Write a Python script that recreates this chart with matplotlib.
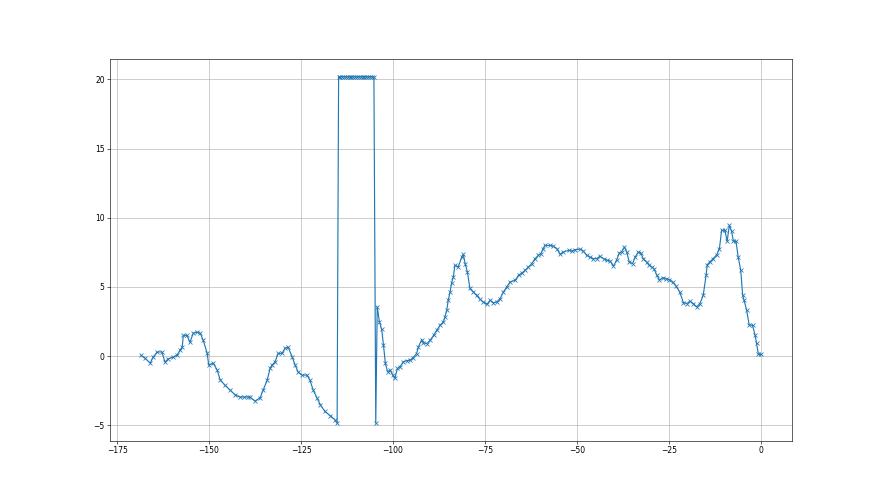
import matplotlib
matplotlib.use("Agg")
import matplotlib.pyplot as plt

x_left = [-168.5, -167.4, -166.0, -165.2, -164.1, -162.8, -162.0, -161.1, -159.8, -158.7,
          -157.9, -157.3, -157.0, -156.0, -155.2, -154.3, -153.3, -152.4, -151.6, -150.5,
          -150.1, -148.9, -147.8, -147.0, -145.7, -144.3, -142.9, -141.6, -140.5, -139.5,
          -138.9, -137.5, -136.1, -135.3, -134.2, -133.4, -132.9, -132.1, -131.2, -130.2,
          -129.3, -128.5, -127.4, -126.6, -125.8, -124.7, -123.4, -122.6, -121.7, -120.7,
          -119.8, -118.5, -117.1, -115.8, -115.2]
y_left = [0.05, -0.15, -0.5, -0.07, 0.3, 0.3, -0.43, -0.2, -0.07, 0.07,
          0.43, 0.65, 1.5, 1.5, 1.0, 1.66, 1.73, 1.66, 1.15, 0.2,
          -0.65, -0.5, -1.0, -1.7, -2.1, -2.45, -2.8, -2.96, -2.95, -2.95,
          -2.96, -3.25, -3.0, -2.45, -1.73, -0.87, -0.65, -0.43, 0.2, 0.2,
          0.58, 0.65, -0.07, -0.65, -1.15, -1.37, -1.37, -1.73, -2.45, -3.0,
          -3.5, -4.0, -4.3, -4.6, -4.85]

x_top = [-114.8, -114.3, -113.8, -113.3, -112.8, -112.3, -111.8, -111.3, -110.8, -110.3,
         -109.8, -109.3, -108.8, -108.3, -107.8, -107.3, -106.8, -106.3, -105.8, -105.2]
y_top = [20.2] * len(x_top)

x_right = [-104.7, -104.3, -103.7, -103.1, -102.6, -102.1, -101.5, -100.8, -100.1, -99.5,
           -98.8, -98.1, -97.2, -96.3, -95.4, -94.5, -93.6, -93.1, -92.2, -91.8,
           -90.8, -89.9, -89.0, -88.1, -87.2, -86.3, -85.9, -85.4, -85.0, -84.5,
           -84.1, -83.6, -83.2, -82.3, -81.3, -80.9, -80.4, -79.8, -79.1, -78.2,
           -77.3, -76.4, -75.5, -74.5, -73.6, -72.7, -71.8, -70.9, -70.0, -69.1,
           -68.2, -66.8, -65.9, -65.0, -64.1, -63.2, -62.3, -61.4, -60.5, -59.8,
           -59.2, -58.7, -57.3, -56.4, -55.5, -54.6, -53.7, -52.3, -51.4, -50.5,
           -49.2, -48.3, -47.4, -46.5, -45.6, -44.6, -43.8, -42.8, -41.9, -41.0,
           -40.1, -39.2, -38.5, -37.9, -37.1, -36.5, -35.8, -34.9, -34.2, -33.3,
           -32.7, -32.0, -31.1, -30.4, -29.7, -29.1, -28.3, -27.6, -26.7, -25.8,
           -24.9, -24.0, -23.1, -22.1, -21.1, -20.2, -19.3, -18.4, -17.5, -16.6,
           -15.7, -14.9, -14.6, -13.9, -13.0, -12.0, -11.3, -10.7, -9.8, -9.2,
           -8.6, -8.0, -7.5, -6.8, -6.2, -5.5, -5.0, -4.6, -3.9, -3.2,
           -2.3, -1.6, -1.2, -0.7, 0.0]
y_right = [-4.85, 3.56, 2.48, 1.95, 0.8, -0.5, -1.13, -1.0, -1.37, -1.6,
           -0.89, -0.77, -0.4, -0.33, -0.29, -0.1, 0.19, 0.67, 1.2, 0.96,
           0.91, 1.15, 1.5, 1.88, 2.24, 2.48, 2.84, 3.32, 4.04, 4.64,
           5.29, 5.73, 6.57, 6.45, 7.17, 7.36, 6.69, 6.09, 4.89, 4.64,
           4.4, 4.12, 3.92, 3.75, 4.04, 3.85, 3.92, 4.16, 4.64, 5.0,
           5.36, 5.49, 5.85, 6.01, 6.2, 6.45, 6.69, 7.05, 7.29, 7.41,
           7.78, 8.01, 8.01, 7.94, 7.78, 7.36, 7.53, 7.65, 7.6, 7.7,
           7.74, 7.6, 7.29, 7.17, 7.05, 7.05, 7.22, 7.05, 6.93, 6.88,
           6.5, 6.98, 7.46, 7.53, 7.89, 7.53, 6.81, 6.69, 7.17, 7.53,
           7.46, 7.05, 6.81, 6.57, 6.45, 6.33, 5.85, 5.49, 5.68, 5.6,
           5.53, 5.36, 5.06, 4.64, 3.87, 3.8, 3.97, 3.8, 3.56, 3.8,
           4.4, 5.9, 6.62, 6.81, 7.05, 7.34, 7.78, 9.1, 9.1, 8.3,
           9.46, 9.03, 8.3, 8.3, 7.17, 6.2, 4.45, 4.04, 3.32, 2.24,
           2.24, 1.5, 0.92, 0.12, 0.12]

x_vals = x_left + x_top + x_right
y_vals = y_left + y_top + y_right

fig, ax = plt.subplots(figsize=(16, 9), dpi=55)
ax.plot(x_vals, y_vals, marker='x', color='tab:blue')
ax.grid(True)
fig.savefig("out.png", dpi=55)
